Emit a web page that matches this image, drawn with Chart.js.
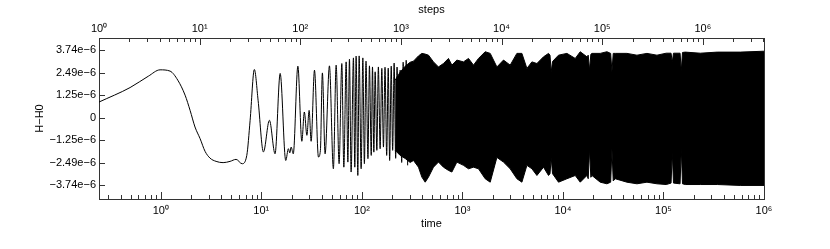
<!DOCTYPE html>
<html>
<head>
<meta charset="utf-8">
<script src="https://cdn.jsdelivr.net/npm/chart.js@4.4.1/dist/chart.umd.min.js"></script>
<style>
  body { margin: 0; background: #fff; }
  #wrap { width: 830px; height: 249px; }
</style>
</head>
<body>
<div id="wrap"><canvas id="myChart"></canvas></div>
<script>
// H-H0 values are written in units of 1e-6
const unitH = 1e-6

// resolved part of the curve (time, H-H0)
const lineTime = [0.243, 0.495, 0.753, 0.984, 1.237, 1.476, 1.745, 1.957, 2.19, 2.46, 2.76, 3.09, 3.55, 4.17, 4.89, 5.61, 6.44, 7.17, 7.74, 8.53,
  9.29, 10.5, 12.04, 13.7, 15.4, 17.5, 18.6, 19.2, 19.8, 20.8, 23.1, 25.3, 26.8, 28.4, 29.9, 31.3, 33.8, 37.0, 38.7, 40.5,
  43.1, 47.6, 52.1, 55.5, 59.4, 63.2, 66.2, 69.8, 72.6, 75.3, 78.2, 82.5, 85.1, 87.7, 91.2, 94.0, 98.4, 102.3, 106, 110,
  115, 119, 124, 127.6, 131.6, 135.6, 141, 146, 152, 158, 164, 170, 176.6, 183, 189, 196, 202.5, 209.5, 217, 224,
  232, 240.5, 249, 257.6, 266.6, 276, 285.6]
const lineH = [0.86, 1.66, 2.29, 2.64, 2.57, 2.07, 1.24, 0.40, -0.52, -1.16, -1.87, -2.24, -2.42, -2.49, -2.42, -2.31, -2.55, -2.09, -0.15, 2.66,
  0.96, -1.90, -0.15, -2.00, 2.44, -2.37, -1.72, -1.95, -1.63, -2.00, 2.84, -1.31, 0.31, -0.98, 0.40, -1.31, 2.62, -2.18, -1.81, 2.47,
  -2.00, 2.86, -2.83, 2.90, -2.55, 2.99, -2.74, 3.08, -2.46, 3.23, -3.01, 3.30, -2.74, 3.40, -3.20, 3.41, -2.83, 3.30, -2.55, 3.12,
  -2.27, 2.86, -2.09, 2.80, -1.91, 2.53, -1.81, 2.80, -1.72, 2.72, -1.63, 2.78, -2.09, 2.73, -2.37, 2.84, -1.81, 3.01, -2.25, 2.79,
  -1.92, 2.62, -2.48, 3.06, -2.14, 3.17, -2.64]

// dense part: upper and lower envelope of the oscillation
const envTime = [214.5, 240.5, 269.7, 302.4, 326.3, 365.8, 395.4, 426.6, 460.1, 515.8, 578.3, 648.4, 727.1, 786.1, 881.6, 1025, 1150, 1290, 1446, 1686,
  1891, 2204, 2564, 2989, 3485, 3908, 4383, 4915, 5512, 6412, 7191, 7439, 7648, 7880, 9042, 10960, 13260, 14870, 17330, 17850,
  18400, 18950, 19430, 23500, 27400, 29830, 30730, 31660, 33140, 43340, 54480, 68520, 86170, 106600, 119000, 122400, 125800, 146300, 150400, 154600,
  164800, 232400, 343000, 581000, 1000000]
const envUpper = [2.07, 2.51, 2.84, 3.06, 3.12, 3.41, 3.55, 3.51, 3.45, 3.08, 2.80, 2.99, 3.27, 2.90, 3.18, 3.08, 3.27, 2.90, 3.27, 3.64,
  3.55, 2.80, 3.18, 2.90, 3.55, 3.55, 2.72, 3.08, 2.99, 3.36, 3.55, 3.45, 2.51, 3.10, 3.45, 3.55, 3.27, 3.64, 3.36, 3.45,
  2.62, 3.50, 3.55, 3.55, 3.64, 3.55, 2.53, 3.55, 3.55, 3.55, 3.45, 3.55, 3.45, 3.56, 3.56, 3.06, 3.56, 3.56, 2.57, 3.60,
  3.62, 3.56, 3.62, 3.62, 3.67]
const envLower = [-1.81, -2.09, -2.26, -2.48, -2.37, -2.74, -3.29, -3.57, -3.29, -2.74, -2.46, -2.74, -2.92, -3.01, -2.46, -2.64, -2.83, -2.74, -2.83, -3.38,
  -3.57, -2.20, -2.46, -2.83, -3.38, -3.57, -2.64, -2.83, -3.20, -2.74, -3.20, -3.10, -2.20, -3.10, -3.57, -3.38, -3.20, -3.57, -3.20, -3.38,
  -1.72, -3.30, -3.20, -3.57, -3.66, -3.57, -1.72, -3.50, -3.38, -3.57, -3.66, -3.57, -3.66, -3.70, -3.62, -1.92, -3.62, -3.66, -1.70, -3.66,
  -3.70, -3.70, -3.70, -3.75, -3.75]

// axes
const timeRange = [0.243, 1e6]
const stepRange = [1, 4.05e6]
const yRange = [-4.5, 4.4]
const yTickValues = [-3.74, -2.49, -1.25, 0, 1.25, 2.49, 3.74]
const decades = [0, 1, 2, 3, 4, 5, 6]
const decadeLabels = ['10⁰', '10¹', '10²', '10³', '10⁴', '10⁵', '10⁶']

const isDecade = v => Math.abs(Math.log10(v) - Math.round(Math.log10(v))) < 1e-9

// log tick marks at 1..9 x 10^k inside the range
const logTicks = (min, max) => {
  const out = []
  for (let k = Math.floor(Math.log10(min)); k <= Math.ceil(Math.log10(max)); k++) {
    for (let m = 1; m < 10; m++) {
      const v = m * Math.pow(10, k)
      if (v >= min * 0.999 && v <= max * 1.001) out.push({ value: v })
    }
  }
  return out
}

const decadeLabel = v => {
  if (!isDecade(v)) return ''
  const i = decades.indexOf(Math.round(Math.log10(v)))
  return i >= 0 ? decadeLabels[i] : ''
}

const axisColor = '#333'
const tickFont = { family: 'Liberation Sans, Arial, sans-serif', size: 11 }
const titleFont = { family: 'Liberation Sans, Arial, sans-serif', size: 11 }

// inward tick marks, long on decades
const tickMarks = {
  id: 'tickMarks',
  afterDraw(chart) {
    const ctx = chart.ctx
    const a = chart.chartArea
    const sx = chart.scales.x, st = chart.scales.xTop, sy = chart.scales.y
    ctx.save()
    ctx.strokeStyle = axisColor
    ctx.lineWidth = 1
    ctx.beginPath()
    sx.ticks.forEach(t => {
      const px = Math.round(sx.getPixelForValue(t.value)) + 0.5
      const len = isDecade(t.value) ? 7 : 4
      ctx.moveTo(px, a.bottom)
      ctx.lineTo(px, a.bottom - len)
    })
    st.ticks.forEach(t => {
      const px = Math.round(st.getPixelForValue(t.value)) + 0.5
      const len = isDecade(t.value) ? 7 : 4
      ctx.moveTo(px, a.top)
      ctx.lineTo(px, a.top + len)
    })
    sy.ticks.forEach(t => {
      const py = Math.round(sy.getPixelForValue(t.value)) + 0.5
      ctx.moveTo(a.left, py)
      ctx.lineTo(a.left + 6, py)
    })
    ctx.stroke()
    ctx.restore()
  }
}

const lineData = lineTime.map((t, i) => ({ x: t, y: lineH[i] * unitH }))
const upperData = envTime.map((t, i) => ({ x: t, y: envUpper[i] * unitH }))
const lowerData = envTime.map((t, i) => ({ x: t, y: envLower[i] * unitH }))

new Chart(document.getElementById('myChart'), {
  type: 'line',
  data: {
    datasets: [
      { data: lineData, xAxisID: 'x', yAxisID: 'y', borderColor: '#000', borderWidth: 1, pointRadius: 0, cubicInterpolationMode: 'monotone', fill: false },
      { data: upperData, xAxisID: 'x', yAxisID: 'y', borderColor: '#000', borderWidth: 1, pointRadius: 0, backgroundColor: '#000', fill: '+1', tension: 0 },
      { data: lowerData, xAxisID: 'x', yAxisID: 'y', borderColor: '#000', borderWidth: 1, pointRadius: 0, fill: false, tension: 0 }
    ]
  },
  options: {
    responsive: true,
    maintainAspectRatio: false,
    animation: false,
    layout: { padding: { left: 0, right: 66, top: 0, bottom: 0 } },
    plugins: { legend: { display: false }, tooltip: { enabled: false } },
    scales: {
      x: {
        type: 'logarithmic', position: 'bottom', min: timeRange[0], max: timeRange[1],
        afterBuildTicks: s => { s.ticks = logTicks(timeRange[0], timeRange[1]) },
        ticks: { autoSkip: false, maxRotation: 0, padding: 5, color: '#000', font: tickFont, callback: v => decadeLabel(v) },
        grid: { display: false, drawTicks: false },
        border: { display: true, color: axisColor },
        title: { display: true, text: 'time', color: '#000', font: titleFont, padding: { top: 0, bottom: 18 } },
        afterFit: s => { s.height = 50 }
      },
      xTop: {
        type: 'logarithmic', position: 'top', min: stepRange[0], max: stepRange[1],
        afterBuildTicks: s => { s.ticks = logTicks(stepRange[0], stepRange[1]) },
        ticks: { autoSkip: false, maxRotation: 0, padding: 2, color: '#000', font: tickFont, callback: v => decadeLabel(v) },
        grid: { display: false, drawTicks: false },
        border: { display: true, color: axisColor },
        title: { display: true, text: 'steps', color: '#000', font: titleFont, padding: { top: 3, bottom: 0 } },
        afterFit: s => { s.height = 38 }
      },
      y: {
        type: 'linear', position: 'left', min: yRange[0] * unitH, max: yRange[1] * unitH,
        afterBuildTicks: s => { s.ticks = yTickValues.map(v => ({ value: v * unitH })) },
        ticks: {
          padding: 3, color: '#000', font: tickFont,
          callback: v => Math.abs(v) < 1e-12 ? '0' : v.toExponential(2).replace(/-/g, '−')
        },
        grid: { display: false, drawTicks: false },
        border: { display: true, color: axisColor },
        title: { display: true, text: 'H−H0', color: '#000', font: titleFont, padding: { top: 33, bottom: 0 } },
        afterFit: s => { s.width = 99 }
      },
      yRight: {
        type: 'linear', position: 'right',
        ticks: { display: false },
        grid: { display: false, drawTicks: false },
        border: { display: true, color: axisColor },
        afterFit: s => { s.width = 0 }
      }
    }
  },
  plugins: [tickMarks]
})
</script>
</body>
</html>
